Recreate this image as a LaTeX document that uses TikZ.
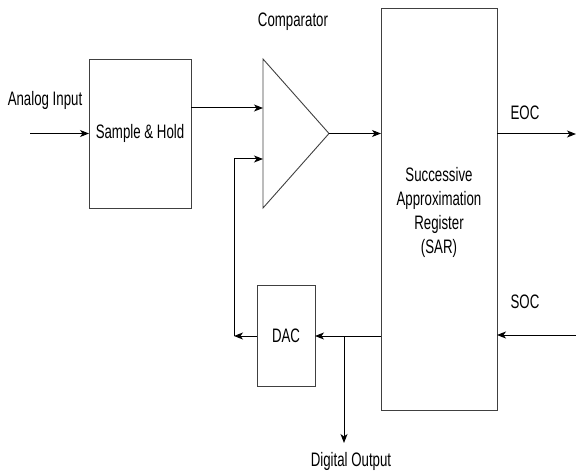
\documentclass[tikz,border=0pt]{standalone}
\usepackage{fontspec}
\setmainfont{Liberation Sans}[FakeStretch=0.68]
\usetikzlibrary{arrows.meta,calc}
\begin{document}
\begin{tikzpicture}[x=1pt,y=-1pt,
  blk/.style={draw=black!75,line width=0.9pt,rectangle,inner sep=0pt,outer sep=0pt,align=center,font=\fontsize{19.5}{24}\selectfont},
  lbl/.style={inner sep=0pt,font=\fontsize{19.5}{24}\selectfont},
  tri/.style={draw=black!75,line width=0.9pt,line join=miter},
  arr/.style={line width=1pt,-{Stealth[length=9pt,width=7pt,inset=2.5pt]}}]
\useasboundingbox (0,0) rectangle (576,473);
\node[blk,minimum width=102pt,minimum height=149pt] (sh) at (140,133.5) {Sample \& Hold};
% comparator triangle
\coordinate (ctop) at (263,59);
\coordinate (cbot) at (263,208);
\coordinate (capex) at (329,133.5);
\draw[tri] (ctop) -- (capex) -- (cbot) -- cycle;
\node[blk,minimum width=116pt,minimum height=402pt] (sar) at (439,209) {};
\node[align=center,inner sep=0pt,font=\fontsize{19.5}{24}\selectfont] (sartext) at (439,212)
  {Successive\\Approximation\\Register\\(SAR)};
\node[blk,minimum width=58pt,minimum height=101pt] (dac) at (286,335.5) {DAC};
\coordinate (ain) at (30,133.5);
\coordinate (in1) at (263,108);
\coordinate (in2) at (263,159);
\coordinate (eoc) at (576,134);
\coordinate (soc) at (576,335);
\coordinate (br) at (344,336);
\coordinate (dout) at (344,443);
\coordinate (fb) at (234,336);
\node[lbl] (tin) at (45,100) {Analog Input};
\node[lbl] (tcomp) at (293,22) {Comparator};
\node[lbl] (teoc) at (525,113) {EOC};
\node[lbl] (tsoc) at (525,302) {SOC};
\node[lbl] (tdout) at (351,461) {Digital Output};
\draw[arr] (ain) -- (sh.west |- ain);
\draw[arr] (sh.east |- in1) -- (in1);
\draw[arr] (capex) -- (sar.west |- capex);
\draw[arr] (sar.east |- eoc) -- (eoc);
\draw[arr] (soc) -- (sar.east |- soc);
\draw[arr] (sar.west |- br) -- (dac.east |- br);
\draw[arr] (br) -- (dout);
\draw[arr] (dac.west |- fb) -- (fb);
\draw[arr] (fb) |- (in2);
\end{tikzpicture}
\end{document}
